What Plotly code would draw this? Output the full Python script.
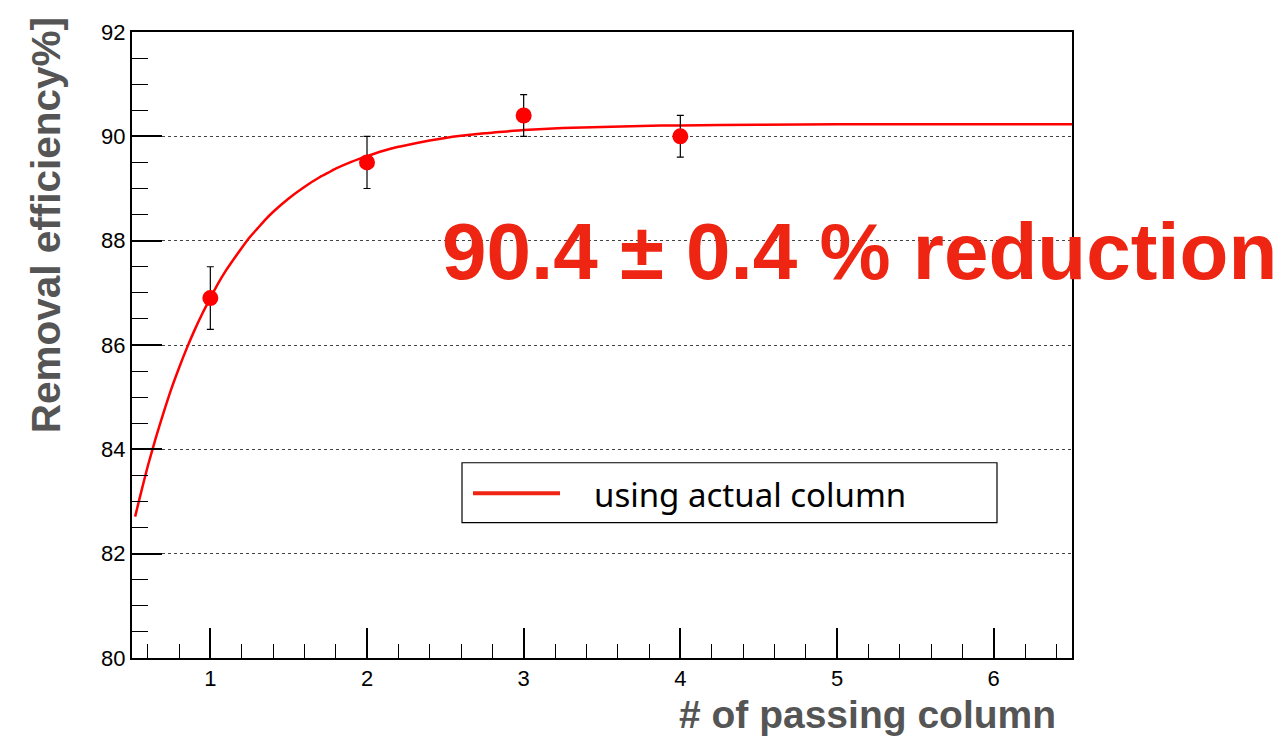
import plotly.graph_objects as go

# Measured points
x_pts = [1, 2, 3, 4]
y_pts = [86.9, 89.5, 90.4, 90.0]
y_err = [0.6, 0.5, 0.4, 0.4]

# Fit curve
x_fit = [0.52, 0.55, 0.6, 0.65, 0.7, 0.75, 0.8, 0.85, 0.9, 0.95, 1.0, 1.05, 1.1, 1.15,
         1.2, 1.25, 1.3, 1.35, 1.4, 1.5, 1.6, 1.7, 1.75, 1.8, 1.9, 2.0, 2.1, 2.2, 2.25,
         2.4, 2.5, 2.6, 2.75, 2.8, 3.0, 3.25, 3.5, 3.75, 4.0, 4.5, 5.0, 6.5]
y_fit = [82.71, 83.08, 83.67, 84.20, 84.69, 85.15, 85.56, 85.94, 86.29, 86.61, 86.90, 87.18, 87.43, 87.65,
         87.86, 88.06, 88.23, 88.40, 88.55, 88.81, 89.03, 89.22, 89.30, 89.38, 89.51, 89.62, 89.72, 89.80, 89.83,
         89.92, 89.97, 90.01, 90.06, 90.07, 90.12, 90.16, 90.18, 90.20, 90.21, 90.22, 90.23, 90.23]

x_ticks = [1, 2, 3, 4, 5, 6]
y_ticks = [80, 82, 84, 86, 88, 90, 92]

legend_label = "using actual column"
note_text = "90.4 ± 0.4 % reduction"
x_title = "# of passing column"
y_title = "Removal efficiency%]"

FONT = "Liberation Sans, Arial, Helvetica, sans-serif"
RED = "#ff0000"
NOTE_RED = "#ee2512"
GRAY = "#555555"

fig = go.Figure()
fig.add_trace(go.Scatter(x=x_fit, y=y_fit, mode="lines",
                         line=dict(color=RED, width=2.5, shape="spline", smoothing=0.6),
                         showlegend=False, name=legend_label))
fig.add_trace(go.Scatter(x=x_pts, y=y_pts, mode="markers",
                         marker=dict(color=RED, size=16),
                         error_y=dict(type="data", array=y_err, color="black",
                                      thickness=1.2, width=3.5),
                         showlegend=False))

axis_common = dict(showline=True, linecolor="black", linewidth=2, mirror=True,
                   ticks="inside", tickcolor="black", tickwidth=1.5,
                   zeroline=False, tickfont=dict(family=FONT, size=22, color="black"))

fig.update_xaxes(range=[0.5, 6.5], tickvals=x_ticks, ticklen=30, showgrid=False,
                 minor=dict(dtick=0.2, tick0=0, ticklen=14, ticks="inside",
                            tickcolor="black", tickwidth=1.2, showgrid=False),
                 **axis_common)
fig.update_yaxes(range=[80, 92], tickvals=y_ticks, ticklen=30, showgrid=True,
                 gridcolor="#444444", griddash="dot", gridwidth=1,
                 minor=dict(dtick=0.5, tick0=80, ticklen=16, ticks="inside",
                            tickcolor="black", tickwidth=1.2, showgrid=False),
                 **axis_common)

# page has an 8px body margin; figure sized so that it ends at the window edge
OFF = 8
W, H = 1285 - OFF, 736 - OFF
PL, PR, PT, PB = 132, 1072, 20, 658   # plot area in screen pixels
L, T = PL - OFF, PT - OFF
R = OFF + W - PR
B = OFF + H - PB
pw, ph = PR - PL, PB - PT

def px(xs):
    return (xs - PL) / pw

def py(ys):
    return (PB - ys) / ph

shapes = [
    dict(type="rect", xref="paper", yref="paper", x0=px(462), x1=px(997),
         y0=py(520), y1=py(459), line=dict(color="black", width=1.2),
         fillcolor="white", layer="above"),
    dict(type="line", xref="paper", yref="paper", x0=px(473), x1=px(560),
         y0=py(490), y1=py(490), line=dict(color="#ee2512", width=4), layer="above"),
]

annotations = [
    dict(text=legend_label, xref="paper", yref="paper", x=px(592), y=py(491),
         xanchor="left", yanchor="middle", showarrow=False,
         font=dict(family="Noto Sans, " + FONT, size=33, color="black")),
    dict(text=note_text, xref="paper", yref="paper", x=px(859), y=py(244),
         xanchor="center", yanchor="middle", showarrow=False,
         font=dict(family=FONT, size=80, color=NOTE_RED, weight="bold")),
    dict(text=x_title, xref="paper", yref="paper", x=px(1058), y=py(716),
         xanchor="right", yanchor="middle", showarrow=False,
         font=dict(family=FONT, size=39, color=GRAY, weight="bold")),
    dict(text=y_title, xref="paper", yref="paper", x=px(46), y=py(3),
         xanchor="center", yanchor="top", textangle=-90, showarrow=False,
         font=dict(family=FONT, size=40.5, color=GRAY, weight="bold")),
]

fig.update_layout(width=W, height=H, margin=dict(l=L, r=R, t=T, b=B),
                  plot_bgcolor="white", paper_bgcolor="white",
                  shapes=shapes, annotations=annotations, showlegend=False)

fig.write_html("out.html")
